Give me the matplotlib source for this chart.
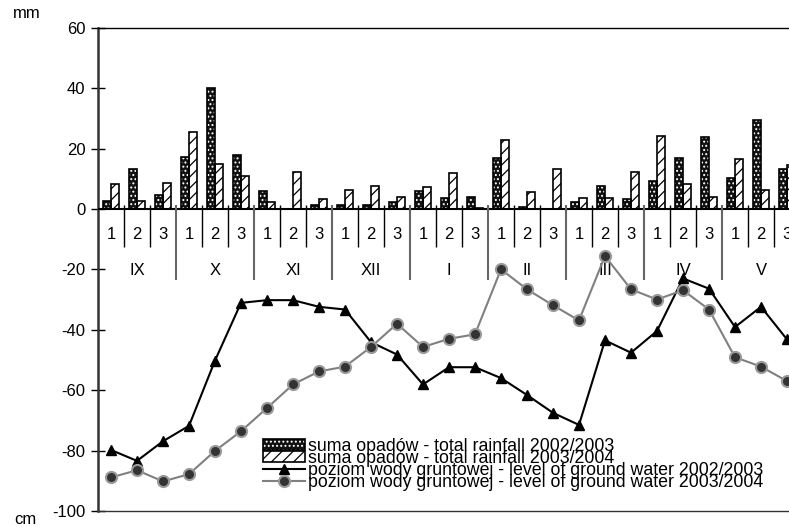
import matplotlib
matplotlib.use('Agg')
import matplotlib.pyplot as plt
from matplotlib.legend_handler import HandlerTuple
import numpy as np

plt.rcParams['font.family'] = ['Liberation Sans', 'DejaVu Sans']
plt.rcParams['hatch.linewidth'] = 0.9

# ---------------- data ----------------
months = ['IX', 'X', 'XI', 'XII', 'I', 'II', 'III', 'IV', 'V']
dekads = ['1', '2', '3']

rain_0203 = [2.7, 13.3, 4.6, 17.3, 39.9, 17.8, 6.1, 0.0, 1.2,
             1.2, 1.2, 2.2, 6.0, 3.7, 4.0, 16.8, 0.5, 0.0,
             2.2, 7.6, 3.2, 9.1, 16.8, 23.9, 10.2, 29.5, 13.3]
rain_0304 = [8.2, 2.5, 8.5, 25.5, 15.0, 10.8, 2.2, 12.3, 3.3,
             6.4, 7.7, 4.1, 7.2, 12.0, 0.4, 22.7, 5.6, 13.3,
             3.7, 3.7, 12.3, 24.3, 8.2, 4.1, 16.4, 6.2, 14.6]
gw_0203 = [-79.8, -83.4, -76.9, -71.8, -50.2, -31.1, -30.2, -30.2, -32.4,
           -33.3, -44.1, -48.2, -58.1, -52.4, -52.4, -56.0, -61.6, -67.5,
           -71.5, -43.5, -47.6, -40.4, -23.0, -26.4, -39.1, -32.4, -43.2]
gw_0304 = [-88.9, -86.5, -90.2, -87.8, -80.1, -73.6, -65.9, -58.1, -53.8,
           -52.2, -45.7, -38.0, -45.7, -43.0, -41.5, -20.0, -26.6, -31.9,
           -36.9, -15.6, -26.6, -30.0, -26.9, -33.3, -49.1, -52.2, -57.0]

labels = ['suma opadów - total rainfall 2002/2003',
          'suma opadów - total rainfall 2003/2004',
          'poziom wody gruntowej - level of ground water 2002/2003',
          'poziom wody gruntowej - level of ground water 2003/2004']
yticks = [-100, -80, -60, -40, -20, 0, 20, 40, 60]

# ---------------- figure ----------------
W, H = 789, 527
fig = plt.figure(figsize=(W / 100, H / 100), dpi=100)
x0 = 98 / W
ax = fig.add_axes([x0, 1 - 511 / H, 1 - x0, (511 - 27.7) / H])

n = len(months) * len(dekads)
x = np.arange(n)
ax.set_xlim(-0.5, -0.5 + (W - 98) / 26)
ax.set_ylim(-100, 60)

bw = 0.31
off = 0.16
b1f = ax.bar(x - off, rain_0203, width=bw, facecolor='#111111', edgecolor='white',
             hatch='....', linewidth=0, zorder=2)
b1e = ax.bar(x - off, rain_0203, width=bw, fill=False, edgecolor='black',
             linewidth=1.2, zorder=3)
b2 = ax.bar(x + off, rain_0304, width=bw, facecolor='white', edgecolor='black',
            hatch='///', linewidth=1.2, zorder=2)

# category axis
ax.axhline(0, color='black', lw=1.5, zorder=4)
bounds = np.arange(1, n) - 0.5
dek_b = [b for k, b in zip(range(1, n), bounds) if k % 3 != 0]
mon_b = [b for k, b in zip(range(1, n), bounds) if k % 3 == 0]
ax.vlines(dek_b, -12.5, 1.3, color='black', lw=1.0, zorder=4)
ax.vlines(mon_b, -23.6, 1.3, color='#666666', lw=1.5, zorder=4)
for i in range(n):
    ax.text(x[i], -8.3, dekads[i % 3], ha='center', va='center', fontsize=12, zorder=4)
for m, name in enumerate(months):
    ax.text(3 * m + 1, -20.3, name, ha='center', va='center', fontsize=12, zorder=4)

# ground water lines
l1, = ax.plot(x, gw_0203, color='black', lw=1.5, marker='^', markersize=7.5,
              markerfacecolor='black', markeredgecolor='black', zorder=5)
l2, = ax.plot(x, gw_0304, color='#808080', lw=1.5, marker='o', markersize=8,
              markerfacecolor='#333333', markeredgecolor='#9a9a9a',
              markeredgewidth=1.5, zorder=6)

# axes styling
ax.set_xticks([])
ax.set_yticks(yticks)
ax.set_yticklabels([str(v) for v in yticks])
ax.tick_params(axis='y', direction='inout', length=10, width=1, labelsize=12,
               pad=4, colors='black')
ax.spines['right'].set_visible(False)
ax.spines['left'].set_color('#333333')
ax.spines['left'].set_linewidth(1.8)
ax.spines['top'].set_linewidth(1.0)
ax.spines['bottom'].set_linewidth(1.0)
ax.spines['bottom'].set_color('#333333')

fig.text(27 / W, 1 - 14 / H, 'mm', ha='center', va='center', fontsize=12)
fig.text(25 / W, 1 - 520 / H, 'cm', ha='center', va='center', fontsize=12)

leg = ax.legend([(b1f, b1e), b2, l1, l2], labels, loc='upper left',
                bbox_to_anchor=(263 / W, 1 - 438 / H), bbox_transform=fig.transFigure,
                frameon=False, fontsize=12.8, borderpad=0, borderaxespad=0,
                handlelength=2.35, handleheight=0.55, handletextpad=0.2,
                labelspacing=-0.29,
                handler_map={tuple: HandlerTuple(ndivide=1, pad=0)})
leg.set_zorder(10)

fig.savefig('out.png', dpi=100)
